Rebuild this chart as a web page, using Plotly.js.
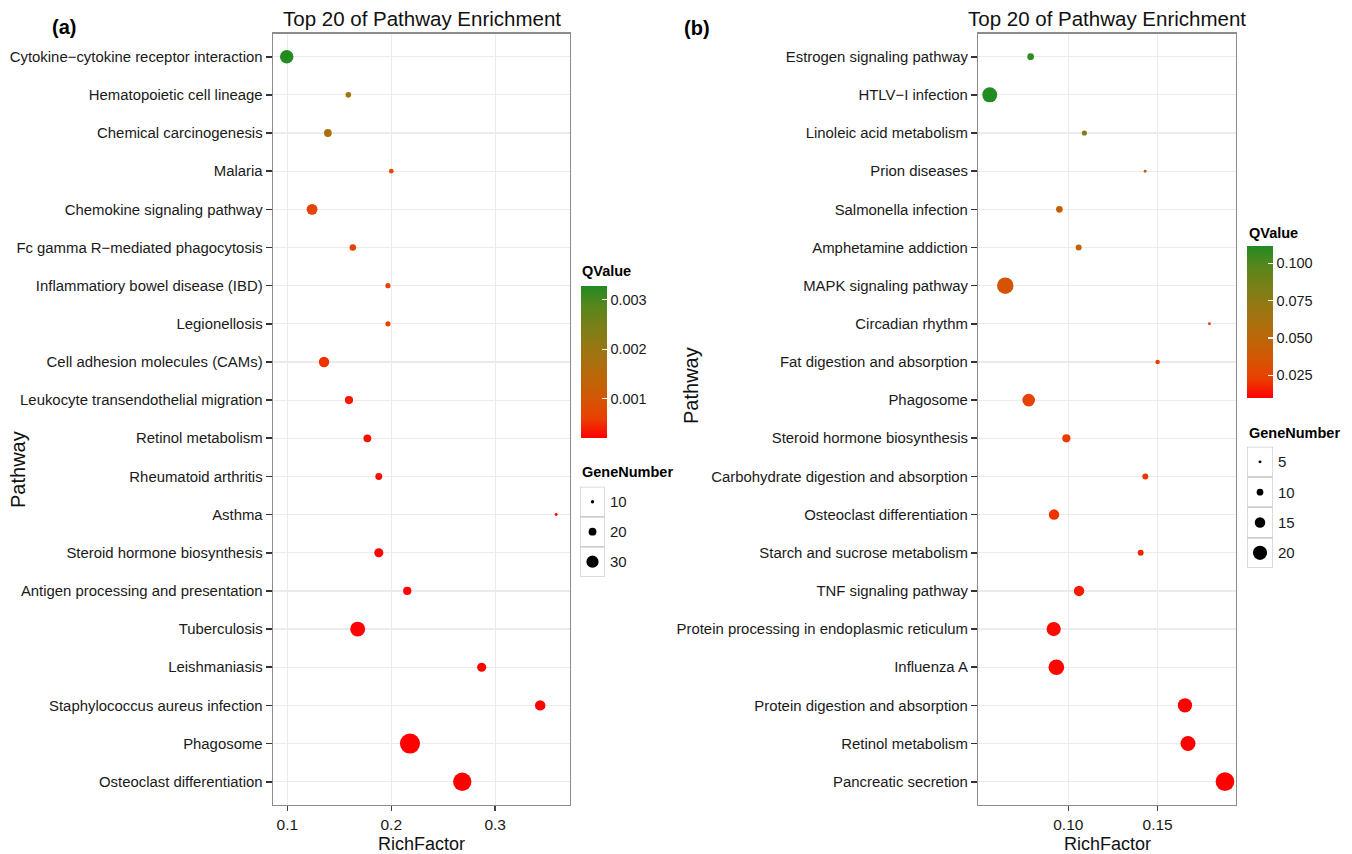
<!DOCTYPE html>
<html><head><meta charset="utf-8">
<script src="https://cdn.plot.ly/plotly-3.0.1.min.js"></script>
<style>html,body{margin:0;padding:0;background:#fff}#chart{width:1352px;height:854px}</style>
</head><body><div id="chart"></div>
<script>
// ---------- Panel (a) data ----------
const pathwaysA = [
  "Cytokine\u2212cytokine receptor interaction","Hematopoietic cell lineage","Chemical carcinogenesis",
  "Malaria","Chemokine signaling pathway","Fc gamma R\u2212mediated phagocytosis",
  "Inflammatiory bowel disease (IBD)","Legionellosis","Cell adhesion molecules (CAMs)",
  "Leukocyte transendothelial migration","Retinol metabolism","Rheumatoid arthritis","Asthma",
  "Steroid hormone biosynthesis","Antigen processing and presentation","Tuberculosis",
  "Leishmaniasis","Staphylococcus aureus infection","Phagosome","Osteoclast differentiation"];
const richA = [0.0994,0.1587,0.139,0.200,0.1238,0.163,0.1968,0.1968,0.1353,0.1593,
  0.177,0.188,0.3587,0.188,0.2154,0.1677,0.287,0.3433,0.218,0.2683];
const geneA = [33,15,20,13,27,17,14,14,26,21,20,18,9,23,21,36,23,26,48,44];
const qA = [0.00328,0.00189,0.00174,0.00082,0.00066,0.00066,0.00066,0.0006,0.00051,0.00035,
  0.00029,0.00026,0.00023,0.00023,0.00022,0.00022,0.00021,0.0002,0.0002,0.0002];
const xTicksA = [0.1,0.2,0.3];
const qTicksA = [0.001,0.002,0.003];
const geneBreaksA = [10,20,30];

// ---------- Panel (b) data ----------
const pathwaysB = [
  "Estrogen signaling pathway","HTLV\u2212I infection","Linoleic acid metabolism","Prion diseases",
  "Salmonella infection","Amphetamine addiction","MAPK signaling pathway","Circadian rhythm",
  "Fat digestion and absorption","Phagosome","Steroid hormone biosynthesis",
  "Carbohydrate digestion and absorption","Osteoclast differentiation","Starch and sucrose metabolism",
  "TNF signaling pathway","Protein processing in endoplasmic reticulum","Influenza A",
  "Protein digestion and absorption","Retinol metabolism","Pancreatic secretion"];
const richB = [0.0789,0.056,0.109,0.143,0.095,0.1058,0.0647,0.179,0.150,0.0778,
  0.0989,0.1431,0.092,0.1405,0.106,0.0918,0.0933,0.1653,0.167,0.1877];
const geneB = [10,21,8,5,10,9,23,5,7,18,12,9,15,9,15,20,22,20,21,26];
const qB = [0.108,0.1115,0.076,0.040,0.045,0.043,0.035,0.028,0.022,0.025,
  0.022,0.020,0.020,0.017,0.015,0.012,0.011,0.0099,0.0099,0.0099];
const xTicksB = [0.10,0.15];
const qTicksB = [0.025,0.050,0.075,0.100];
const geneBreaksB = [5,10,15,20];

// ---------- styling helpers ----------
const W = 1352, H = 854;
const px = v => v / W, py = v => 1 - v / H;
const FONT = "Liberation Sans, Arial, Helvetica, sans-serif";
const cscale = [[0,"rgb(255,0,0)"],[0.125,"rgb(234,62,0)"],[0.25,"rgb(213,85,4)"],[0.375,"rgb(191,100,7)"],
  [0.5,"rgb(169,112,14)"],[0.625,"rgb(145,121,19)"],[0.75,"rgb(118,128,24)"],[0.875,"rgb(86,134,29)"],[1,"rgb(34,139,34)"]];
const sizeA = v => 0.44 * v - 1.0;
const sizeB = v => 0.75 * v - 0.8;

const plotTop = 33.8, plotBot = 804.6;
const A = {l:273, r:570}, B = {l:978.3, r:1235.7};

function xax(dom, range, ticks, fmt) {
  return {domain:[px(dom.l), px(dom.r)], range:range, tickvals:ticks,
    ticktext: ticks.map(t => t.toFixed(fmt)), showgrid:true, gridcolor:"#EBEBEB", gridwidth:1.2,
    zeroline:false, showline:true, mirror:true, linecolor:"#8C8C8C", linewidth:1.4,
    ticks:"outside", ticklen:5, tickwidth:1.4, tickcolor:"#444", automargin:false,
    tickfont:{family:FONT, size:15.5, color:"#1a1a1a"}, fixedrange:true};
}
function yax(cats, anchor) {
  return {domain:[py(plotBot), py(plotTop)], type:"category", categoryorder:"array", categoryarray:cats,
    range:[cats.length - 0.4, -0.6], showgrid:true, gridcolor:"#EBEBEB", gridwidth:1.2,
    zeroline:false, showline:true, mirror:true, linecolor:"#8C8C8C", linewidth:1.4,
    ticks:"outside", ticklen:6, tickwidth:1.6, tickcolor:"#333", automargin:false,
    tickfont:{family:FONT, size:14.9, color:"#1a1a1a"}, anchor:anchor, fixedrange:true};
}

const traces = [
  {type:"scatter", mode:"markers", x:richA, y:pathwaysA, xaxis:"x", yaxis:"y",
   marker:{size:geneA.map(sizeA), sizemode:"diameter", color:qA, coloraxis:"coloraxis", line:{width:0}, opacity:1},
   hoverinfo:"skip"},
  {type:"scatter", mode:"markers", x:richB, y:pathwaysB, xaxis:"x2", yaxis:"y2",
   marker:{size:geneB.map(sizeB), sizemode:"diameter", color:qB, coloraxis:"coloraxis2", line:{width:0}, opacity:1},
   hoverinfo:"skip"},
  // size legends
  {type:"scatter", mode:"markers", x:geneBreaksA.map(() => 0.5), y:geneBreaksA.map((_, i) => i + 0.5),
   xaxis:"x3", yaxis:"y3", marker:{size:geneBreaksA.map(sizeA), color:"#000000", opacity:1, line:{width:0}}, hoverinfo:"skip"},
  {type:"scatter", mode:"markers", x:geneBreaksB.map(() => 0.5), y:geneBreaksB.map((_, i) => i + 0.5),
   xaxis:"x4", yaxis:"y4", marker:{size:geneBreaksB.map(sizeB), color:"#000000", opacity:1, line:{width:0}}, hoverinfo:"skip"}
];

const hidden = {showgrid:false, zeroline:false, showticklabels:false, showline:false, ticks:"", fixedrange:true, automargin:false};
const legA = {t:486.7, b:576.7, l:580, r:605};
const legB = {t:446.7, b:568, l:1247, r:1273};

const shapes = [];
geneBreaksA.forEach((_, i) => shapes.push({type:"rect", xref:"x3", yref:"y3", x0:0, x1:1, y0:i, y1:i+1,
  line:{color:"#CFCFCF", width:1.5}, fillcolor:"rgba(0,0,0,0)", layer:"below"}));
geneBreaksB.forEach((_, i) => shapes.push({type:"rect", xref:"x4", yref:"y4", x0:0, x1:1, y0:i, y1:i+1,
  line:{color:"#CFCFCF", width:1.5}, fillcolor:"rgba(0,0,0,0)", layer:"below"}));

const ann = [];
function txt(x, y, text, font, extra) {
  ann.push(Object.assign({xref:"paper", yref:"paper", x:px(x), y:py(y), text:text, showarrow:false,
    xanchor:"center", yanchor:"middle", font:font}, extra || {}));
}
txt(421.5, 18.5, "Top 20 of Pathway Enrichment", {family:FONT, size:20.5, color:"#111"});
txt(1107, 18.5, "Top 20 of Pathway Enrichment", {family:FONT, size:20.5, color:"#111"});
txt(64, 27, "<b>(a)</b>", {family:FONT, size:20, color:"#000"});
txt(697, 28, "<b>(b)</b>", {family:FONT, size:20, color:"#000"});
txt(18, 470, "Pathway", {family:FONT, size:20, color:"#111"}, {textangle:-90});
txt(691, 386, "Pathway", {family:FONT, size:20, color:"#111"}, {textangle:-90});
txt(421.5, 844, "RichFactor", {family:FONT, size:18, color:"#111"});
txt(1107, 844, "RichFactor", {family:FONT, size:18, color:"#111"});
txt(580, 271, "<b>QValue</b>", {family:FONT, size:14.5, color:"#000"}, {xanchor:"left"});
txt(580, 472, "<b>GeneNumber</b>", {family:FONT, size:14.5, color:"#000"}, {xanchor:"left"});
txt(1247, 233, "<b>QValue</b>", {family:FONT, size:14.5, color:"#000"}, {xanchor:"left"});
txt(1247, 433, "<b>GeneNumber</b>", {family:FONT, size:14.5, color:"#000"}, {xanchor:"left"});
geneBreaksA.forEach((g, i) => ann.push({xref:"x3", yref:"y3", x:1, y:i + 0.5, xanchor:"left", yanchor:"middle",
  xshift:3, text:String(g), showarrow:false, font:{family:FONT, size:15, color:"#1a1a1a"}}));
geneBreaksB.forEach((g, i) => ann.push({xref:"x4", yref:"y4", x:1, y:i + 0.5, xanchor:"left", yanchor:"middle",
  xshift:3, text:String(g), showarrow:false, font:{family:FONT, size:15, color:"#1a1a1a"}}));

function cbar(xl, top, bot, ticks, fmt) {
  return {x:px(xl), xanchor:"left", xref:"container", y:py(top), yanchor:"top", yref:"container",
    len:bot - top, lenmode:"pixels", thickness:26, thicknessmode:"pixels", outlinewidth:0,
    xpad:0, ypad:0, ticks:"inside", ticklen:5, tickwidth:1.2, tickcolor:"#FFFFFF",
    tickvals:ticks, ticktext:ticks.map(t => t.toFixed(fmt)),
    tickfont:{family:FONT, size:14.5, color:"#1a1a1a"}};
}

const layout = {
  width:W, height:H, margin:{l:0, r:0, t:0, b:0, autoexpand:false}, paper_bgcolor:"#fff", plot_bgcolor:"#fff",
  showlegend:false,
  xaxis: Object.assign(xax(A, [0.0862, 0.372], xTicksA, 1), {anchor:"y"}),
  yaxis: yax(pathwaysA, "x"),
  xaxis2: Object.assign(xax(B, [0.0496, 0.1937], xTicksB, 2), {anchor:"y2"}),
  yaxis2: yax(pathwaysB, "x2"),
  xaxis3: Object.assign({domain:[px(legA.l), px(legA.r)], range:[0,1], anchor:"y3"}, hidden),
  yaxis3: Object.assign({domain:[py(legA.b), py(legA.t)], range:[geneBreaksA.length, 0], anchor:"x3"}, hidden),
  xaxis4: Object.assign({domain:[px(legB.l), px(legB.r)], range:[0,1], anchor:"y4"}, hidden),
  yaxis4: Object.assign({domain:[py(legB.b), py(legB.t)], range:[geneBreaksB.length, 0], anchor:"x4"}, hidden),
  coloraxis: {colorscale:cscale, cmin:Math.min(...qA), cmax:Math.max(...qA),
    colorbar: cbar(580.7, 286, 438.3, qTicksA, 3)},
  coloraxis2: {colorscale:cscale, cmin:Math.min(...qB), cmax:Math.max(...qB),
    colorbar: cbar(1247.3, 246, 398.3, qTicksB, 3)},
  shapes: shapes, annotations: ann
};

Plotly.newPlot("chart", traces, layout, {displayModeBar:false, staticPlot:true});
</script></body></html>
